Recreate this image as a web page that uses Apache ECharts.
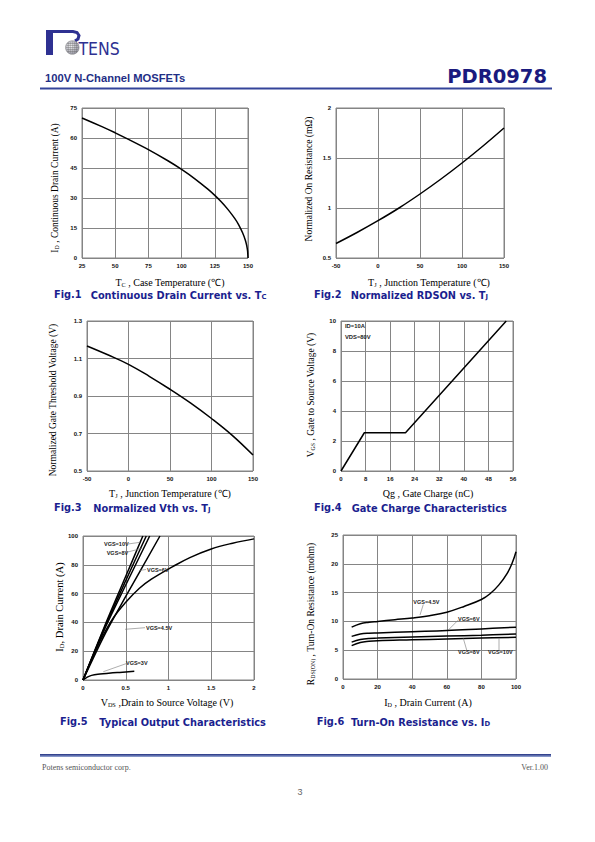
<!DOCTYPE html>
<html><head><meta charset="utf-8">
<script src="https://cdn.jsdelivr.net/npm/echarts@6/dist/echarts.min.js"></script>
<style>html,body{margin:0;padding:0;background:#fff}#c{width:595px;height:842px}</style>
</head><body><div id="c"></div>
<script>
// ---------- DATA ----------
// Fig.1 Continuous Drain Current vs. Tc
var fig1Tc = [25, 40, 50, 60, 75, 90, 100, 110, 120, 125, 130, 135, 140, 143, 146, 148, 149, 149.7, 150];
var fig1Id = [70, 65.7, 62.6, 59.3, 54.2, 48.5, 44.3, 39.6, 34.3, 31.3, 28, 24.2, 19.8, 16.6, 12.5, 8.9, 6.3, 3.4, 0];
// Fig.2 Normalized RDSON vs. Tj
var fig2Tj = [-50, -25, 0, 25, 50, 75, 100, 125, 150];
var fig2R = [0.645, 0.755, 0.873, 1.0, 1.14, 1.29, 1.45, 1.62, 1.80];
// Fig.3 Normalized Vth vs. Tj
var fig3Tj = [-50, -25, 0, 25, 50, 75, 100, 125, 150];
var fig3V = [1.167, 1.12, 1.069, 1.005, 0.936, 0.862, 0.78, 0.69, 0.585];
// Fig.4 Gate charge
var fig4Qg = [0, 7.6, 21, 53.8];
var fig4Vgs = [0, 2.55, 2.55, 10];
// Fig.5 Output characteristics
var fig5Vds10 = [0, 0.25, 0.5, 0.70];   var fig5Id10 = [0, 37, 72, 100];
var fig5Vds8 = [0, 0.25, 0.5, 0.74];    var fig5Id8 = [0, 36, 69, 100];
var fig5VdsX = [0, 0.25, 0.5, 0.78];    var fig5IdX = [0, 35, 66, 100];
var fig5Vds6 = [0, 0.25, 0.5, 0.90];    var fig5Id6 = [0, 31, 58, 100];
var fig5Vds45 = [0, 0.1, 0.2, 0.35, 0.5, 0.66, 0.8, 1.05, 1.25, 1.5, 1.75, 2.0];
var fig5Id45 = [0, 14, 27, 42.8, 54, 63.7, 70, 78.7, 85, 91, 95, 98];
var fig5Vds3 = [0, 0.05, 0.1, 0.2, 0.3, 0.4, 0.5, 0.6];
var fig5Id3 = [0, 2, 3.2, 4.1, 4.7, 5.2, 5.6, 6.0];
// Fig.6 Turn-on resistance vs. Id
var fig6Id45 = [5, 10, 15, 20, 30, 40, 50, 60, 70, 80, 85, 90, 95, 98, 100];
var fig6R45 = [9.0, 9.6, 9.85, 10.0, 10.3, 10.6, 11.0, 11.6, 12.6, 13.8, 14.8, 16.3, 18.4, 20.3, 22.1];
var fig6Id = [5, 10, 15, 20, 40, 60, 80, 100];
var fig6R6 = [7.4, 7.8, 7.95, 8.0, 8.2, 8.4, 8.7, 9.0];
var fig6R8 = [6.4, 6.85, 7.05, 7.1, 7.3, 7.45, 7.6, 7.8];
var fig6R10 = [5.8, 6.35, 6.55, 6.65, 6.8, 6.95, 7.1, 7.25];

// ---------- HELPERS ----------
function pairs(xs, ys) { return xs.map(function (x, i) { return [x, ys[i]]; }); }
var GRIDC = '#858585';
var grids = [
  {left: 82, top: 108, width: 166, height: 150},
  {left: 336, top: 108, width: 168, height: 150},
  {left: 87, top: 321, width: 166, height: 150},
  {left: 341, top: 321, width: 172, height: 150},
  {left: 83, top: 536, width: 171, height: 144},
  {left: 343, top: 535, width: 173, height: 144}
].map(function (g) { return Object.assign({show: true, borderColor: GRIDC, borderWidth: 1, containLabel: false}, g); });

function axis(gi, min, max, interval) {
  return {type: 'value', gridIndex: gi, min: min, max: max, interval: interval,
    axisLine: {show: false}, axisTick: {show: false},
    axisLabel: {fontSize: 6, fontWeight: 'bold', color: '#111', fontFamily: 'Liberation Sans', margin: 5},
    splitLine: {show: true, lineStyle: {color: GRIDC, width: 1}}};
}
var xAxes = [axis(0, 25, 150, 25), axis(1, -50, 150, 50), axis(2, -50, 150, 50), axis(3, 0, 56, 8), axis(4, 0, 2, 0.5), axis(5, 0, 100, 20)];
var yAxes = [axis(0, 0, 75, 15), axis(1, 0.5, 2, 0.5), axis(2, 0.5, 1.3, 0.2), axis(3, 0, 10, 2), axis(4, 0, 100, 20), axis(5, 0, 25, 5)];

function line(gi, xs, ys, smooth, name) {
  return {type: 'line', name: name, xAxisIndex: gi, yAxisIndex: gi, data: pairs(xs, ys), showSymbol: false,
    smooth: smooth, silent: true, lineStyle: {color: '#000', width: 1.5}, z: 5};
}
var series = [
  line(0, fig1Tc, fig1Id, 0.2, 'ID'),
  line(1, fig2Tj, fig2R, 0.4, 'RDSON'),
  line(2, fig3Tj, fig3V, 0.4, 'Vth'),
  line(3, fig4Qg, fig4Vgs, false, 'VGS'),
  line(4, fig5Vds10, fig5Id10, 0.3, 'VGS=10V'),
  line(4, fig5Vds8, fig5Id8, 0.3, 'VGS=8V'),
  line(4, fig5VdsX, fig5IdX, 0.3, 'VGS=7V'),
  line(4, fig5Vds6, fig5Id6, 0.3, 'VGS=6V'),
  line(4, fig5Vds45, fig5Id45, 0.4, 'VGS=4.5V'),
  line(4, fig5Vds3, fig5Id3, 0.4, 'VGS=3V'),
  line(5, fig6Id45, fig6R45, 0.4, 'VGS=4.5V'),
  line(5, fig6Id, fig6R6, 0.4, 'VGS=6V'),
  line(5, fig6Id, fig6R8, 0.4, 'VGS=8V'),
  line(5, fig6Id, fig6R10, 0.4, 'VGS=10V')
];

// ---------- GRAPHICS (text & decoration) ----------
var SERIF = 'Liberation Serif';
function T(x, y, text, st, rot) {
  var s = Object.assign({text: text, x: 0, y: 0, fill: '#000', align: 'left', verticalAlign: 'middle'}, st || {});
  s.textAlign = s.align;
  s.textVerticalAlign = s.verticalAlign;
  return {type: 'text', x: x, y: y, rotation: rot || 0, style: s, z: 10, silent: true};
}
function L(x1, y1, x2, y2, color, w) {
  return {type: 'line', shape: {x1: x1, y1: y1, x2: x2, y2: y2}, style: {stroke: color || '#777', lineWidth: w || 0.6}, z: 10, silent: true};
}
function axName(x, y, main, sub, rest, size, rot) {
  var txt = '{n|' + main + '}' + (sub ? '{s|' + sub + '}' : '') + (rest ? '{n|' + rest + '}' : '');
  return T(x, y, txt, {align: 'center', verticalAlign: 'middle',
    rich: {n: {fontFamily: SERIF, fontSize: size, fill: '#000', verticalAlign: 'bottom', lineHeight: size + 2},
           s: {fontFamily: SERIF, fontSize: size * 0.62, fill: '#000', verticalAlign: 'bottom', lineHeight: size + 2}}}, rot);
}
var CAPC = '#1b1f8f';
var CAPF = 9.8;
function caption(x1, x2, y, fig, main, sub) {
  var out = [T(x1, y, fig, {fontFamily: 'DejaVu Sans', fontWeight: 'bold', fontSize: CAPF, fill: CAPC})];
  var txt = '{n|' + main + '}' + (sub ? '{s|' + sub + '}' : '');
  out.push(T(x2, y, txt, {rich: {n: {fontFamily: 'DejaVu Sans', fontWeight: 'bold', fontSize: CAPF, fill: CAPC, verticalAlign: 'bottom', lineHeight: 12},
    s: {fontFamily: 'DejaVu Sans', fontWeight: 'bold', fontSize: 6.8, fill: CAPC, verticalAlign: 'bottom', lineHeight: 11}}}));
  return out;
}
var ROT = Math.PI / 2;
var lab = {fontFamily: 'Liberation Sans', fontWeight: 'bold', fontSize: 5.5, fill: '#222'};
function annot(x, y, text) { return T(x, y, text, Object.assign({}, lab)); }

var graphics = [];
// Logo
graphics.push({type: 'rect', shape: {x: 46, y: 30, width: 7, height: 25}, style: {fill: '#2e3192'}, z: 10});
graphics.push({type: 'polyline', shape: {points: [[53, 31.5], [73, 31.5], [77, 32.5], [79, 35.5], [78, 39], [75, 41]]}, style: {stroke: '#2e3192', fill: null, lineWidth: 3}, z: 10});
graphics.push({type: 'circle', shape: {cx: 72.3, cy: 47.5, r: 6.8},
  style: {fill: new echarts.graphic.RadialGradient(0.4, 0.4, 0.7, [{offset: 0, color: '#ffffff'}, {offset: 1, color: '#8a8a9a'}]), stroke: '#777', lineWidth: 0.5}, z: 10});
[-4, -2, 0, 2, 4].forEach(function (d) {
  graphics.push(L(72.3 + d, 41.2 + Math.abs(d) * 0.3, 72.3 + d, 53.8 - Math.abs(d) * 0.3, '#666', 0.4));
  graphics.push(L(66 + Math.abs(d) * 0.3, 47.5 + d, 78.6 - Math.abs(d) * 0.3, 47.5 + d, '#666', 0.4));
});
graphics.push(T(78.5, 48.5, 'TENS', {fontFamily: 'DejaVu Sans Condensed', fontSize: 17.5, fill: '#2e3192'}));
// Header
graphics.push(T(45, 77.5, '100V N-Channel MOSFETs', {fontFamily: 'Liberation Sans', fontWeight: 'bold', fontSize: 11.2, fill: '#1f2f86'}));
graphics.push(T(547, 76, 'PDR0978', {fontFamily: 'DejaVu Sans', fontWeight: 'bold', fontSize: 19.5, fill: '#1a1a7e', align: 'right'}));
graphics.push({type: 'rect', shape: {x: 40, y: 87.5, width: 512, height: 2}, style: {fill: '#34449a'}, z: 10});
// Footer
graphics.push({type: 'rect', shape: {x: 40, y: 754, width: 511, height: 3},
  style: {fill: new echarts.graphic.LinearGradient(0, 0, 0, 1, [{offset: 0, color: '#1f2f80'}, {offset: 1, color: '#9aaad6'}])}, z: 10});
graphics.push(T(42, 767.5, 'Potens semiconductor corp.', {fontFamily: SERIF, fontSize: 8, fill: '#555'}));
graphics.push(T(548, 767.5, 'Ver.1.00', {fontFamily: SERIF, fontSize: 8, fill: '#555', align: 'right'}));
graphics.push(T(300, 791.5, '3', {fontFamily: 'Liberation Sans', fontSize: 9, fill: '#666', align: 'center'}));

// Axis names
graphics.push(axName(170, 281.5, 'T', 'C', ' , Case Temperature (\u2103)', 10));
graphics.push(axName(54, 188, 'I', 'D', ' , Continuous Drain Current (A)', 9.5, ROT));
graphics.push(axName(429, 281.5, 'T', 'J', ' , Junction Temperature (\u2103)', 10));
graphics.push(axName(308, 179, 'Normalized On Resistance (m\u03A9)', '', '', 9.5, ROT));
graphics.push(axName(170, 492.5, 'T', 'J', ' , Junction Temperature (\u2103)', 10));
graphics.push(axName(52, 400, 'Normalized Gate Threshold Voltage (V)', '', '', 9.5, ROT));
graphics.push(axName(428, 492, 'Qg , Gate Charge (nC)', '', '', 10));
graphics.push(axName(310, 395, 'V', 'GS', ' , Gate to Source Voltage (V)', 9.5, ROT));
graphics.push(axName(167, 701, 'V', 'DS', ' ,Drain to Source Voltage (V)', 10));
graphics.push(axName(58.5, 607, 'I', 'D', ', Drain Current (A)', 10.5, ROT));
graphics.push(axName(428, 701.5, 'I', 'D', ' , Drain Current (A)', 10));
graphics.push(axName(310, 614, 'R', 'DS(ON)', ' , Turn-On Resistance (mohm)', 9.5, ROT));

// Captions
graphics = graphics.concat(
  caption(54, 90.7, 294.5, 'Fig.1', 'Continuous Drain Current vs. T', 'C'),
  caption(314, 350.7, 294.5, 'Fig.2', 'Normalized RDSON vs. T', 'J'),
  caption(54, 93.3, 507.7, 'Fig.3', 'Normalized Vth vs. T', 'J'),
  caption(314, 351.7, 507.7, 'Fig.4', 'Gate Charge Characteristics', ''),
  caption(60, 99.3, 721.5, 'Fig.5', 'Typical Output Characteristics', ''),
  caption(316.7, 351, 721, 'Fig.6', 'Turn-On Resistance vs. I', 'D')
);

// Fig.4 conditions
graphics.push(T(345, 325.5, 'ID=10A', {fontFamily: 'Liberation Sans', fontWeight: 'bold', fontSize: 5.8, fill: '#222'}));
graphics.push(T(345, 336.5, 'VDS=80V', {fontFamily: 'Liberation Sans', fontWeight: 'bold', fontSize: 5.8, fill: '#222'}));

// Fig.5 annotations
graphics.push(annot(104, 544.3, 'VGS=10V')); graphics.push(L(126, 544.3, 140, 542.3));
graphics.push(annot(106.7, 553.3, 'VGS=8V')); graphics.push(L(125, 552.7, 142.3, 548.3));
graphics.push(annot(147, 570, 'VGS=6V')); graphics.push(L(146, 569.5, 139, 570.5));
graphics.push(annot(146, 627.7, 'VGS=4.5V')); graphics.push(L(145, 627.7, 125, 629.3));
graphics.push(annot(126, 662.7, 'VGS=3V')); graphics.push(L(126, 663.7, 103.3, 671.7));
// Fig.6 annotations
graphics.push(annot(413.3, 601.7, 'VGS=4.5V')); graphics.push(L(423.3, 604.5, 420, 615));
graphics.push(annot(458, 619.3, 'VGS=6V')); graphics.push(L(458.3, 620, 448.3, 630));
graphics.push(annot(458, 652.3, 'VGS=8V')); graphics.push(L(466.7, 650, 463.3, 638.3));
graphics.push(annot(488, 652.3, 'VGS=10V')); graphics.push(L(499, 650, 499, 638.3));

var chart = echarts.init(document.getElementById('c'), null, {renderer: 'svg', width: 595, height: 842});
chart.setOption({
  animation: false,
  backgroundColor: '#fff',
  grid: grids,
  xAxis: xAxes,
  yAxis: yAxes,
  series: series,
  graphic: {elements: graphics}
});
</script>
</body></html>
